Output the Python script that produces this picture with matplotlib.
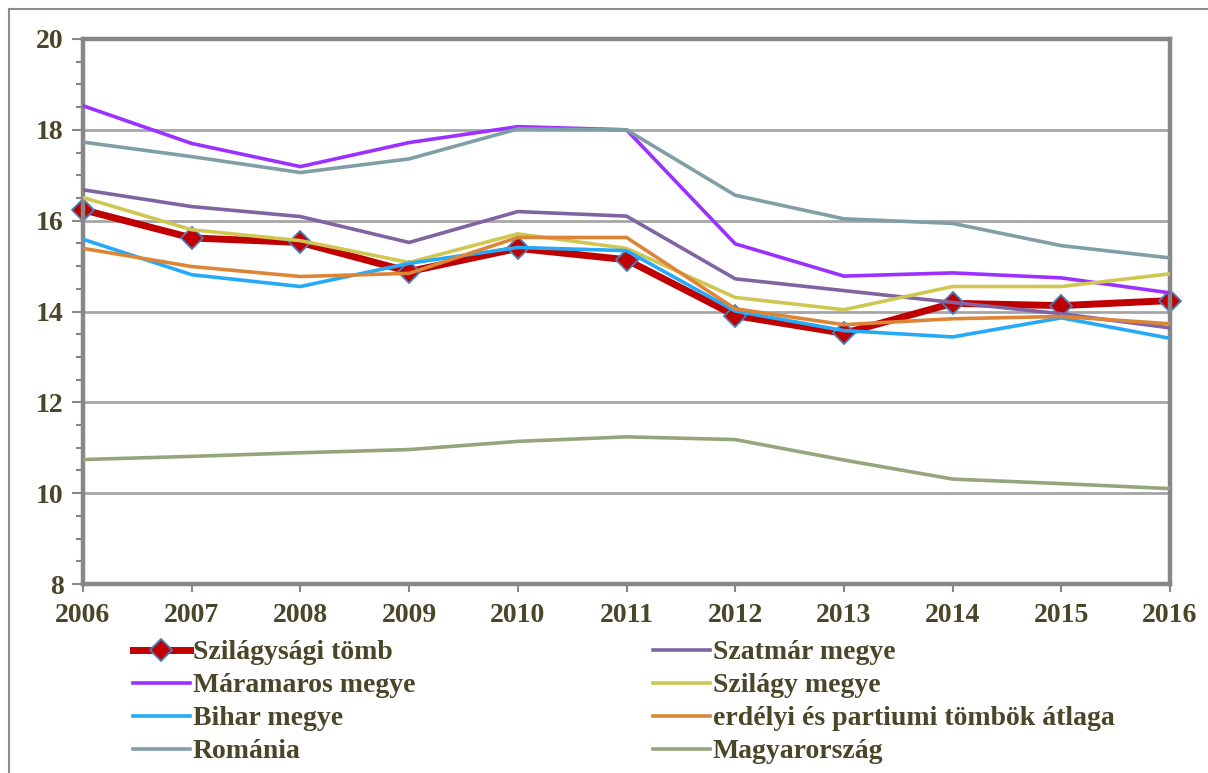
import matplotlib.pyplot as plt
from matplotlib.lines import Line2D
from matplotlib.ticker import MultipleLocator

# Adatok
years = [2006, 2007, 2008, 2009, 2010, 2011, 2012, 2013, 2014, 2015, 2016]
szilagysagi_tomb = [16.24, 15.62, 15.52, 14.88, 15.39, 15.14, 13.91, 13.52, 14.18, 14.13, 14.24]
szatmar = [16.68, 16.31, 16.09, 15.52, 16.20, 16.10, 14.72, 14.46, 14.20, 13.95, 13.64]
maramaros = [18.53, 17.70, 17.19, 17.72, 18.07, 18.00, 15.49, 14.78, 14.85, 14.74, 14.41]
szilagy = [16.51, 15.80, 15.56, 15.08, 15.71, 15.39, 14.31, 14.04, 14.55, 14.55, 14.83]
bihar = [15.59, 14.81, 14.55, 15.06, 15.41, 15.34, 14.01, 13.58, 13.44, 13.86, 13.41]
erdelyi_atlag = [15.39, 14.99, 14.77, 14.84, 15.63, 15.63, 14.06, 13.71, 13.84, 13.89, 13.73]
romania = [17.73, 17.41, 17.06, 17.36, 18.02, 18.00, 16.56, 16.04, 15.94, 15.45, 15.18]
magyarorszag = [10.74, 10.81, 10.89, 10.96, 11.14, 11.24, 11.18, 10.73, 10.31, 10.21, 10.10]

text_color = '#4a4628'
frame_color = '#878787'
fs = 20

plt.rcParams['font.family'] = ['Liberation Serif', 'DejaVu Serif']
plt.rcParams['font.weight'] = 'bold'

fig = plt.figure(figsize=(12.08, 7.73), dpi=100)
ax = fig.add_axes([83 / 1208, 1 - 584 / 773, (1170 - 83) / 1208, (584 - 39) / 773])

# Vonalak
series = [
    ('Szatmár megye', szatmar, '#8064a2'),
    ('Máramaros megye', maramaros, '#9b30ff'),
    ('Szilágy megye', szilagy, '#cfc752'),
    ('Bihar megye', bihar, '#26aaf7'),
    ('erdélyi és partiumi tömbök átlaga', erdelyi_atlag, '#dc8537'),
    ('Románia', romania, '#7f9ea6'),
    ('Magyarország', magyarorszag, '#95a57c'),
]
handles = {}
for name, vals, col in series:
    ln, = ax.plot(years, vals, color=col, lw=2.6, zorder=3)
    handles[name] = ln

ln, = ax.plot(years, szilagysagi_tomb, color='#c00000', lw=5, marker='D', ms=11,
              markerfacecolor='#c00000', markeredgecolor='#4a7ebb', markeredgewidth=1.3,
              zorder=2.5, clip_on=False)
handles['Szilágysági tömb'] = ln

ax.set_xlim(2006, 2016)
ax.set_ylim(8, 20)
ax.set_xticks(years)
ax.yaxis.set_major_locator(MultipleLocator(2))
ax.yaxis.set_minor_locator(MultipleLocator(0.5))
ax.grid(axis='y', which='major', color='#a6a6a6', lw=2, zorder=1)
ax.set_axisbelow(True)

for s in ax.spines.values():
    s.set_color(frame_color)
    s.set_linewidth(3.2)

ax.tick_params(axis='both', which='both', colors=frame_color, labelcolor=text_color,
               labelsize=fs, width=1.5)
ax.tick_params(axis='y', which='major', length=8, pad=6)
ax.tick_params(axis='y', which='minor', length=5)
ax.tick_params(axis='x', which='major', length=6, pad=8)
for lab in ax.get_xticklabels() + ax.get_yticklabels():
    lab.set_fontweight('bold')

# Jelmagyarázat két oszlopban
col1 = ['Szilágysági tömb', 'Máramaros megye', 'Bihar megye', 'Románia']
col2 = ['Szatmár megye', 'Szilágy megye', 'erdélyi és partiumi tömbök átlaga', 'Magyarország']
leg_kw = dict(loc='upper left', frameon=False, borderpad=0, borderaxespad=0,
              handlelength=2.05, handletextpad=0.1, labelspacing=0.27,
              prop={'size': fs, 'weight': 'bold'}, labelcolor=text_color)
fig.legend([handles[n] for n in col1], col1, bbox_to_anchor=(133 / 1208, 1 - 640 / 773), **leg_kw)
fig.legend([handles[n] for n in col2], col2, bbox_to_anchor=(653 / 1208, 1 - 640 / 773), **leg_kw)

# Külső keret
fig.add_artist(Line2D([9 / 1208, 1], [1 - 9 / 773, 1 - 9 / 773], color='#8c8c8c', lw=1.5))
fig.add_artist(Line2D([9 / 1208, 9 / 1208], [0, 1 - 9 / 773], color='#8c8c8c', lw=1.5))

fig.savefig('out.png', dpi=100)
